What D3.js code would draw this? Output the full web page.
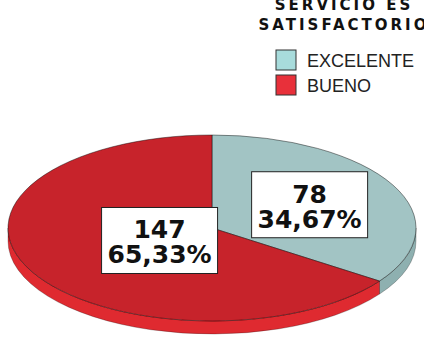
<!DOCTYPE html>
<html>
<head>
<meta charset="utf-8">
<script src="https://cdn.jsdelivr.net/npm/d3@7"></script>
<style>
  html, body { margin: 0; padding: 0; background: #fff; }
</style>
</head>
<body>
<div id="chart"></div>
<script>
// pseudo-3D pie: "Servicio es satisfactorio"
const categories = ["EXCELENTE", "BUENO"];
const counts = [78, 147];
const percentLabels = ["34,67%", "65,33%"];
const titleLines = ["SERVICIO ES", "SATISFACTORIO"];

const topColors = ["#a2c4c4", "#c7232b"];
const sideColors = ["#8eb0b0", "#df2a30"];
const legendColors = ["#a8dcdc", "#e8303a"];

(function () {
  const W = 424, H = 344;
  const cx = 212, cy = 228, rx = 204, ry = 93, depth = 13;
  const labelFrac = [0.54, 0.29];

  const svg = d3.select("#chart").append("svg")
    .attr("width", W).attr("height", H);

  const pie = d3.pie().sort(null).value(d => d);
  const arcs = pie(counts);

  // angle measured clockwise from top
  const pt = (a, dy = 0) => [cx + rx * Math.sin(a), cy - ry * Math.cos(a) + dy];

  function topPath(a0, a1) {
    const p0 = pt(a0), p1 = pt(a1);
    const large = a1 - a0 > Math.PI ? 1 : 0;
    return `M${cx},${cy}L${p0}A${rx},${ry} 0 ${large} 1 ${p1}Z`;
  }

  function sidePath(a0, a1) {
    const s0 = Math.max(a0, Math.PI / 2), s1 = Math.min(a1, 3 * Math.PI / 2);
    if (s1 <= s0) return null;
    const p0 = pt(s0), p1 = pt(s1), q0 = pt(s0, depth), q1 = pt(s1, depth);
    return `M${p0}A${rx},${ry} 0 0 1 ${p1}L${q1}A${rx},${ry} 0 0 0 ${q0}Z`;
  }

  const sides = svg.append("g");
  arcs.forEach((d, i) => {
    const p = sidePath(d.startAngle, d.endAngle);
    if (p) sides.append("path").attr("d", p)
      .attr("fill", sideColors[i])
      .attr("stroke", "rgba(0,0,0,0.35)").attr("stroke-width", 0.7);
  });

  const tops = svg.append("g");
  tops.selectAll("path").data(arcs).join("path")
    .attr("d", d => topPath(d.startAngle, d.endAngle))
    .attr("fill", (d, i) => topColors[i])
    .attr("stroke", "rgba(0,0,0,0.55)").attr("stroke-width", 0.8)
    .attr("stroke-linejoin", "round");

  // value labels
  const labels = svg.append("g")
    .attr("font-family", "'DejaVu Sans', sans-serif")
    .attr("font-weight", "bold")
    .attr("font-size", "25px")
    .attr("text-anchor", "middle");

  arcs.forEach((d, i) => {
    const mid = (d.startAngle + d.endAngle) / 2;
    const f = labelFrac[i];
    const x = cx + rx * f * Math.sin(mid);
    const y = cy - ry * f * Math.cos(mid);
    const bw = 116, bh = 66;
    labels.append("rect")
      .attr("x", x - bw / 2).attr("y", y - bh / 2)
      .attr("width", bw).attr("height", bh)
      .attr("fill", "#fff").attr("stroke", "#222").attr("stroke-width", 1);
    labels.append("text").attr("x", x).attr("y", y - 2)
      .attr("fill", "#111").text(counts[i]);
    labels.append("text").attr("x", x).attr("y", y + 23)
      .attr("fill", "#111").text(percentLabels[i]);
  });

  // legend
  const lg = svg.append("g");
  lg.selectAll("text.title").data(titleLines).join("text")
    .attr("class", "title")
    .attr("x", 344).attr("y", (d, i) => 10 + i * 20)
    .attr("text-anchor", "middle")
    .attr("font-family", "'DejaVu Sans', sans-serif")
    .attr("font-weight", "bold").attr("font-size", "15px")
    .attr("letter-spacing", "3px").attr("fill", "#111")
    .text(d => d);

  const items = lg.selectAll("g.item").data(categories).join("g")
    .attr("class", "item")
    .attr("transform", (d, i) => `translate(276,${50 + i * 25})`);
  items.append("rect")
    .attr("width", 20).attr("height", 20)
    .attr("fill", (d, i) => legendColors[i])
    .attr("stroke", "#333").attr("stroke-width", 1);
  items.append("text")
    .attr("x", 31).attr("y", 17)
    .attr("font-family", "'Liberation Sans', Arial, sans-serif")
    .attr("font-size", "18px").attr("fill", "#222")
    .text(d => d);
})();
</script>
</body>
</html>
